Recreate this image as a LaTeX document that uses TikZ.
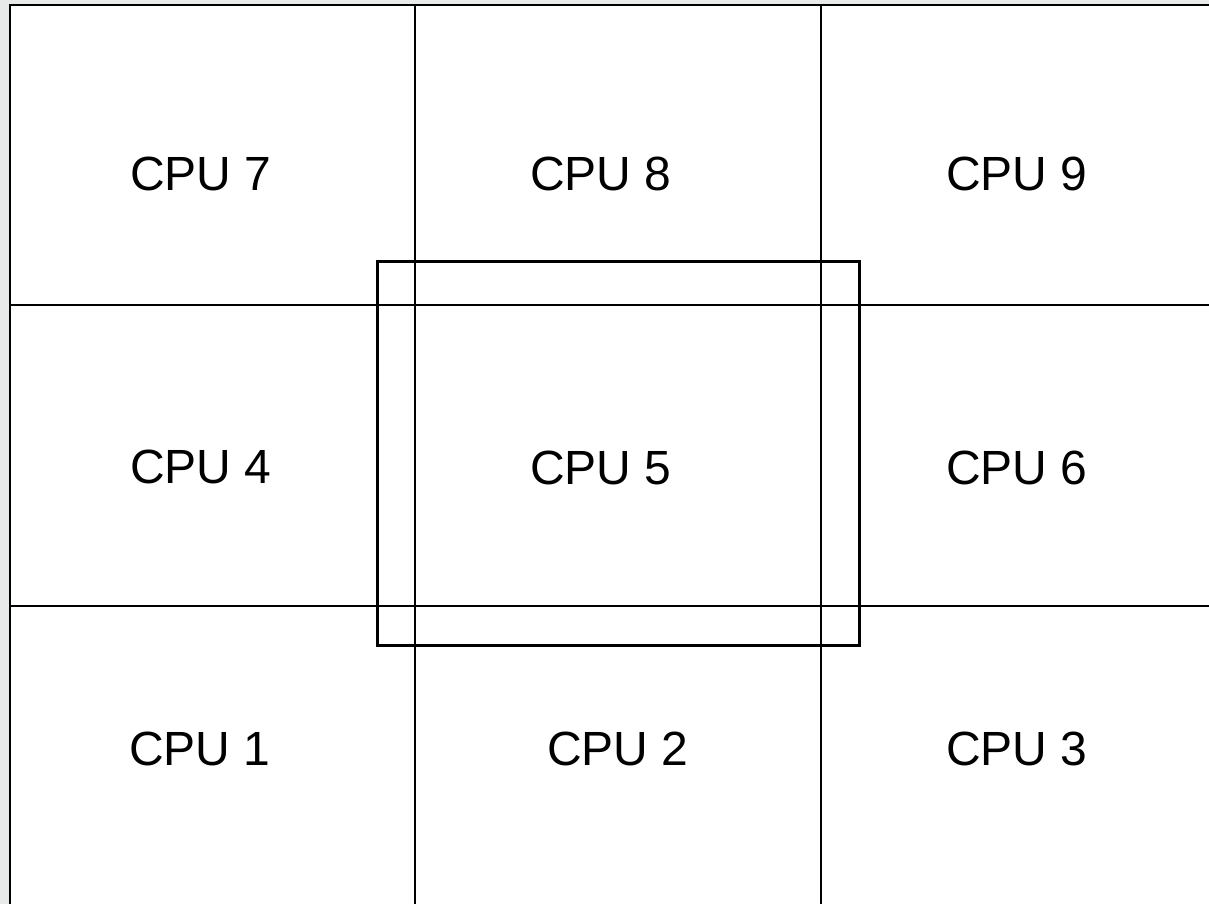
\documentclass[tikz,border=0pt]{standalone}
\usepackage{fontspec}
\setmainfont{Liberation Sans}
\definecolor{stripgray}{RGB}{232,234,233}
\begin{document}
\begin{tikzpicture}[x=1pt,y=-1pt,
  grid/.style={line width=1.5pt,black},
  frame/.style={line width=2pt,black},
  hl/.style={line width=3pt,black,line join=miter},
  cpu/.style={anchor=base,inner sep=0pt,font=\fontsize{48}{48}\selectfont}]
\useasboundingbox (0,0) rectangle (1209,904);
\fill[stripgray] (0,0) rectangle (10,904);
\fill[stripgray] (0,0) rectangle (1209,5);
\fill[white] (10,5) rectangle (1209,904);
% outer border
\draw[frame] (10,904) -- (10,5) -- (1209,5);
% grid
\draw[grid] (415,5) -- (415,904);
\draw[grid] (821,5) -- (821,904);
\draw[grid] (10,305) -- (1209,305);
\draw[grid] (10,606) -- (1209,606);
% highlighted region
\draw[hl] (377,261) rectangle (859,645);
% labels
\node[cpu] (c7) at (201,190) {CPU 7};
\node[cpu] (c8) at (601,190) {CPU 8};
\node[cpu] (c9) at (1017,190) {CPU 9};
\node[cpu] (c4) at (201,483) {CPU 4};
\node[cpu] (c5) at (601,484) {CPU 5};
\node[cpu] (c6) at (1017,484) {CPU 6};
\node[cpu] (c1) at (200,765) {CPU 1};
\node[cpu] (c2) at (618,765) {CPU 2};
\node[cpu] (c3) at (1017,765) {CPU 3};
\end{tikzpicture}
\end{document}
